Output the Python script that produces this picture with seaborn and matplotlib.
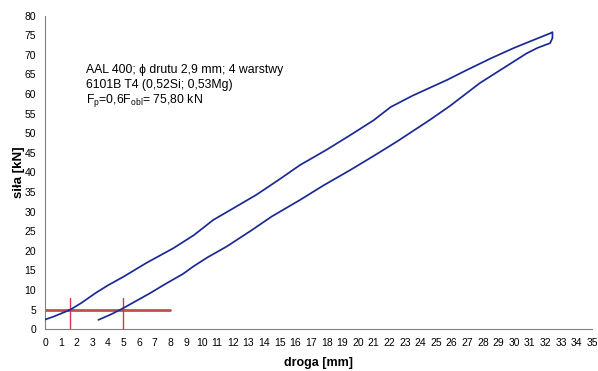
import matplotlib
matplotlib.use("Agg")
import matplotlib.pyplot as plt
import seaborn as sns
import pandas as pd

# --- data ---
droga = [0.0, 0.5, 1.0, 1.6, 2.3, 3.2, 4.0, 5.0, 6.5, 8.2, 9.5, 10.75, 12.0, 13.5,
         15.0, 16.3, 18.0, 19.5, 21.0, 22.1, 23.5, 25.7, 27.0, 28.5, 30.0, 31.3, 32.3, 32.45,
         32.45, 32.3, 31.5, 30.8, 29.3, 27.8, 25.9, 24.6, 22.5, 21.0, 19.5, 17.8, 16.3, 14.5,
         13.1, 11.6, 10.4, 9.5, 8.8, 7.7, 6.7, 5.8, 4.9, 4.2, 3.4]
sila = [2.5, 3.2, 4.0, 5.0, 6.7, 9.2, 11.2, 13.4, 17.0, 20.7, 24.0, 27.9, 30.8, 34.3,
        38.3, 41.9, 45.8, 49.5, 53.3, 56.7, 59.6, 63.6, 66.2, 69.1, 71.8, 73.9, 75.5, 75.8,
        74.3, 73.0, 71.8, 70.4, 66.6, 62.8, 57.0, 53.4, 47.9, 44.2, 40.6, 36.7, 33.0, 28.8,
        25.0, 21.1, 18.4, 16.1, 14.1, 11.6, 9.2, 7.2, 5.2, 3.8, 2.4]

poziom_x = [0, 8]
poziom_y = [5, 5]
pion_x = [1.6, 4.95]
pion_y = [0, 8]

x_ticks = list(range(0, 36))
y_ticks = list(range(0, 81, 5))

opis = ["AAL 400; \u03d5 drutu 2,9 mm; 4 warstwy",
        "6101B T4 (0,52Si; 0,53Mg)",
        "F$_{p}$=0,6F$_{obl}$= 75,80 kN"]

sns.set_style("white")
plt.rcParams['font.family'] = ['Liberation Sans', 'DejaVu Sans']
plt.rcParams['mathtext.fontset'] = 'custom'
plt.rcParams['mathtext.rm'] = 'Liberation Sans'
plt.rcParams['mathtext.it'] = 'Liberation Sans'
plt.rcParams['mathtext.default'] = 'regular'

fig = plt.figure(figsize=(5.98, 3.71), dpi=100)
ax = fig.add_axes([0.0757, 0.1124, 0.9148, 0.8453])

df = pd.DataFrame({"droga": droga, "sila": sila})
sns.lineplot(data=df, x="droga", y="sila", sort=False, estimator=None,
             color="#1a2a94", linewidth=1.25, ax=ax, zorder=3)

sns.lineplot(x=poziom_x, y=poziom_y, color="#c0504d", linewidth=2.0,
             estimator=None, sort=False, ax=ax, zorder=2)
for px in pion_x:
    sns.lineplot(x=[px, px], y=pion_y, color="#d9354a", linewidth=1.0,
                 estimator=None, sort=False, ax=ax, zorder=2)

ax.set_xlim(0, 35)
ax.set_ylim(0, 80)
ax.set_xticks(x_ticks)
ax.set_yticks(y_ticks)
ax.tick_params(axis='both', labelsize=7.5, length=3.5, width=0.8, color="#808080",
               labelcolor="black", direction='out', pad=3)
for s in ['top', 'right']:
    ax.spines[s].set_visible(False)
for s in ['left', 'bottom']:
    ax.spines[s].set_color("#808080")
    ax.spines[s].set_linewidth(0.8)

ax.set_xlabel("droga [mm]", fontsize=9, fontweight='bold', labelpad=6, color="black")
ax.set_ylabel("siła [kN]", fontsize=9.5, fontweight='bold', labelpad=0, color="black")

for i, t in enumerate(opis):
    ax.text(2.6, 66.2 - i * 3.9, t, fontsize=8.8, va='center', ha='left', color="black")

fig.savefig("out.png", dpi=100)
